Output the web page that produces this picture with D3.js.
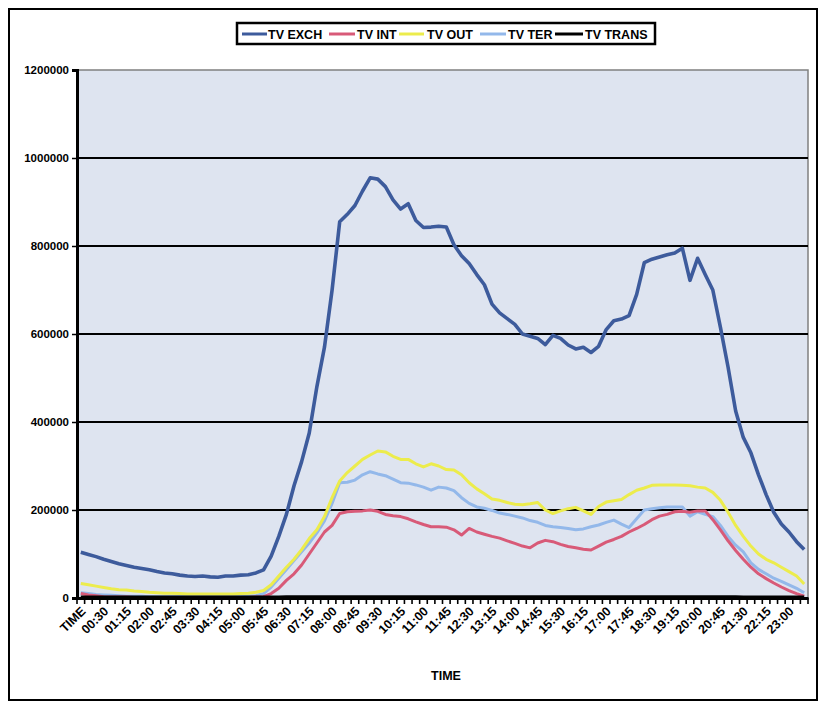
<!DOCTYPE html>
<html><head><meta charset="utf-8">
<script src="https://cdn.jsdelivr.net/npm/d3@7"></script>
<style>
body{margin:0;background:#fff;}
svg text{font-family:"Liberation Sans",Arial,sans-serif;font-weight:bold;fill:#000;}
</style></head>
<body>
<svg id="chart" width="824" height="706"></svg>
<script>
// ---- data ----
const categories = ["TIME",
"00:00","00:15","00:30","00:45","01:00","01:15","01:30","01:45","02:00","02:15","02:30","02:45",
"03:00","03:15","03:30","03:45","04:00","04:15","04:30","04:45","05:00","05:15","05:30","05:45",
"06:00","06:15","06:30","06:45","07:00","07:15","07:30","07:45","08:00","08:15","08:30","08:45",
"09:00","09:15","09:30","09:45","10:00","10:15","10:30","10:45","11:00","11:15","11:30","11:45",
"12:00","12:15","12:30","12:45","13:00","13:15","13:30","13:45","14:00","14:15","14:30","14:45",
"15:00","15:15","15:30","15:45","16:00","16:15","16:30","16:45","17:00","17:15","17:30","17:45",
"18:00","18:15","18:30","18:45","19:00","19:15","19:30","19:45","20:00","20:15","20:30","20:45",
"21:00","21:15","21:30","21:45","22:00","22:15","22:30","22:45","23:00","23:15","23:30"];

const tvExch = [104000,99000,94000,88000,83000,78000,74000,70000,67000,64000,60000,57000,55000,52000,50000,49000,
50000,48000,47000,50000,50000,52000,53000,57000,64000,95000,140000,190000,255000,310000,375000,480000,
570000,700000,855000,872000,892000,925000,955000,952000,935000,905000,884000,896000,858000,842000,843000,845000,
843000,803000,778000,760000,735000,712000,668000,648000,635000,622000,600000,595000,590000,576000,597000,590000,
575000,566000,570000,558000,572000,610000,630000,634000,642000,690000,762000,770000,775000,780000,784000,795000,
722000,772000,735000,700000,615000,525000,425000,365000,330000,280000,235000,195000,168000,150000,128000,110000];

const tvInt = [10000,7000,5000,3000,2000,2000,2000,1000,1000,1000,1000,1000,1000,1000,1000,1000,
1000,1000,1000,1000,1000,1000,1000,2000,3000,10000,22000,40000,55000,75000,100000,125000,
150000,165000,192000,196000,197000,198000,200000,197000,190000,187000,185000,180000,173000,167000,162000,162000,
161000,155000,143000,158000,150000,145000,140000,136000,130000,124000,118000,114000,125000,131000,128000,122000,
117000,114000,111000,109000,118000,127000,133000,140000,150000,158000,167000,178000,186000,190000,196000,197000,
195000,198000,198000,178000,155000,130000,108000,88000,70000,55000,44000,34000,25000,17000,10000,4000];

const tvOut = [33000,30000,27000,24000,21000,19000,18000,16000,15000,13000,12000,11000,11000,10000,9000,9000,
9000,9000,9000,9000,9000,10000,11000,13000,17000,30000,50000,70000,88000,110000,135000,155000,
185000,228000,266000,285000,300000,315000,325000,334000,332000,322000,315000,315000,305000,298000,305000,300000,
292000,291000,280000,262000,248000,237000,225000,222000,217000,213000,212000,214000,217000,200000,192000,198000,
203000,206000,198000,190000,208000,218000,221000,224000,235000,245000,250000,256000,257000,257000,257000,256000,
255000,252000,250000,240000,222000,195000,165000,140000,118000,100000,88000,80000,70000,60000,50000,32000];

const tvTer = [12000,10000,8000,7000,6000,5000,4000,4000,4000,3000,3000,3000,3000,3000,3000,3000,
3000,3000,3000,3000,3000,3000,4000,5000,10000,25000,45000,65000,85000,105000,125000,148000,
175000,215000,262000,263000,268000,280000,287000,282000,278000,270000,262000,261000,257000,252000,245000,252000,
250000,244000,228000,215000,207000,204000,199000,193000,190000,186000,182000,176000,172000,165000,162000,160000,
158000,155000,157000,162000,166000,172000,177000,168000,160000,180000,200000,203000,205000,207000,207000,207000,
186000,196000,190000,185000,165000,140000,120000,105000,80000,65000,55000,45000,38000,30000,22000,12000];

const tvTrans = [2000,2000,2000,2000,2000,2000,2000,2000,2000,2000,2000,2000,2000,2000,2000,2000,
2000,2000,2000,2000,2000,2000,2000,2000,2000,2000,2000,3000,3000,3000,3000,3000,
3000,3000,3000,3000,3000,3000,3000,3000,3000,3000,3000,3000,3000,3000,3000,3000,
3000,3000,3000,3000,3000,3000,3000,3000,3000,3000,3000,3000,3000,3000,3000,3000,
3000,3000,3000,3000,3000,3000,3000,3000,3000,3000,3000,3000,3000,3000,3000,3000,
3000,3000,3000,3000,3000,3000,3000,2000,2000,2000,2000,2000,2000,2000,2000,2000];

const yTicks = [0,200000,400000,600000,800000,1000000,1200000];
const seriesNames = ["TV EXCH","TV INT","TV OUT","TV TER","TV TRANS"];
const seriesColors = ["#3d5b9c","#d85a78","#ecec4c","#93b8ea","#000000"];
const seriesData = [tvExch,tvInt,tvOut,tvTer,tvTrans];

// ---- layout ----
const svg = d3.select("#chart");
const L = 77, R = 808, T = 70, B = 598;

// outer frame
svg.append("rect").attr("x",9).attr("y",9).attr("width",808).attr("height",691)
  .attr("fill","#fff").attr("stroke","#000").attr("stroke-width",2);

// plot area
svg.append("rect").attr("x",L).attr("y",T).attr("width",R-L).attr("height",B-T)
  .attr("fill","#dee4f0").attr("stroke","#808080").attr("stroke-width",1.5);

const x = d3.scalePoint().domain(categories).range([L,R]).padding(0.5);
const y = d3.scaleLinear().domain([0,1200000]).range([B,T]);
const step = x.step();

// gridlines
svg.append("g").selectAll("line").data(yTicks.filter(d=>d>0 && d<1200000)).join("line")
  .attr("x1",L).attr("x2",R).attr("y1",d=>y(d)).attr("y2",d=>y(d))
  .attr("stroke","#000").attr("stroke-width",2);

// lines
const line = d3.line().x((d,i)=>x(categories[i])).y(d=>y(d));
const order = [0,3,2,1,4];
svg.append("g").selectAll("path").data(order).join("path")
  .attr("d",k=>line(seriesData[k]))
  .attr("fill","none")
  .attr("stroke",k=>seriesColors[k])
  .attr("stroke-width",k=>k===0?3.6:3)
  .attr("stroke-linejoin","round");

// y axis
const yAxis = d3.axisLeft(y).tickValues(yTicks).tickFormat(d3.format("d")).tickSize(5).tickPadding(3);
const gy = svg.append("g").attr("transform",`translate(${L},0)`).call(yAxis);
gy.select(".domain").attr("stroke","#000").attr("stroke-width",3);
gy.selectAll(".tick line").attr("stroke","#000").attr("stroke-width",1.5);
gy.selectAll("text").style("font-size","11.5px").attr("fill","#000");

// x axis
const xAxis = d3.axisBottom(x).tickSize(0).tickFormat((d,i)=> i%3===0 ? d : "");
const gx = svg.append("g").attr("transform",`translate(0,${B})`).call(xAxis);
gx.select(".domain").attr("stroke","#000").attr("stroke-width",3);
gx.selectAll(".tick text")
  .style("font-size","12.5px")
  .attr("text-anchor","end")
  .attr("dy",null).attr("y",0)
  .attr("transform","translate(5,14) rotate(-45)");

// category boundary tick marks
const bounds = d3.range(categories.length+1).map(i=>L + i*step);
svg.append("g").selectAll("line").data(bounds).join("line")
  .attr("x1",d=>d).attr("x2",d=>d).attr("y1",B).attr("y2",B+6)
  .attr("stroke","#000").attr("stroke-width",1.6);

// axis title
svg.append("text").attr("x",446).attr("y",680).attr("text-anchor","middle")
  .style("font-size","12.5px").text("TIME");

// legend
const lg = svg.append("g");
lg.append("rect").attr("x",237).attr("y",23).attr("width",418).attr("height",21)
  .attr("fill","#fff").attr("stroke","#000").attr("stroke-width",2.5);
const legLine = [242,329,399,480,555];
const legLen = [25,26,25,26,28];
const legText = [268,357,427,508,585];
const items = lg.selectAll("g.item").data(seriesNames).join("g").attr("class","item");
items.append("line").attr("x1",(d,i)=>legLine[i]).attr("x2",(d,i)=>legLine[i]+legLen[i])
  .attr("y1",34).attr("y2",34)
  .attr("stroke",(d,i)=>seriesColors[i]).attr("stroke-width",3);
items.append("text").attr("x",(d,i)=>legText[i]).attr("y",38.5)
  .style("font-size","12.5px").text(d=>d);
</script>
</body></html>
